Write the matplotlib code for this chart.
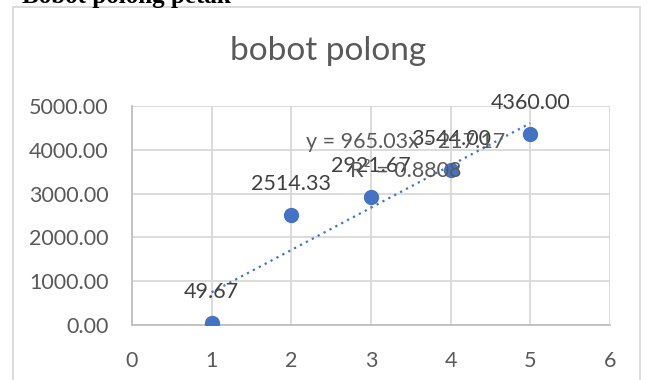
import matplotlib.pyplot as plt
from matplotlib.patches import Rectangle
import numpy as np

# bobot polong per perlakuan
perlakuan = [1, 2, 3, 4, 5]
bobot = [49.67, 2514.33, 2921.67, 3544.00, 4360.00]

# linear trendline as reported on the chart
trend_slope = 965.03
trend_intercept = -217.17
trend_r2 = 0.8808

x_ticks = [0, 1, 2, 3, 4, 5, 6]
y_ticks = [0, 1000, 2000, 3000, 4000, 5000]

blue = '#4472C4'
grey_text = '#595959'
grid_col = '#d9d9d9'
font = 'Lato'
fs = 15.5

fig = plt.figure(figsize=(6.48, 3.80), dpi=100)
fig.patch.set_facecolor('white')

# heading above the chart frame (partly cut at the top)
fig.text(22 / 648, 1 - 3 / 380, 'Bobot polong petak', family='Liberation Serif',
         fontweight='bold', fontsize=18, ha='left', va='baseline', color='black')

# chart frame
fig.patches.append(Rectangle((12.5 / 648, -0.1), (640 - 12.5) / 648, 1.1 - 7 / 380,
                             transform=fig.transFigure, fill=False,
                             edgecolor=grid_col, linewidth=1.3))

ax = fig.add_axes([132 / 648, 1 - 325 / 380, (610 - 132) / 648, (325 - 106) / 380])

x_line = np.array([perlakuan[0], perlakuan[-1]], dtype=float)
ax.plot(x_line, trend_slope * x_line + trend_intercept,
        color=blue, linewidth=1.6, linestyle=(0, (1, 2)), zorder=3)

ax.plot(perlakuan, bobot, 'o', color=blue, markersize=10, zorder=4)

for xi, yi in zip(perlakuan, bobot):
    ax.annotate(f'{yi:.2f}', (xi, yi), xytext=(0, 22), textcoords='offset points',
                ha='center', va='center', fontsize=fs, color='#404040', family=font,
                zorder=5)

sign = '-' if trend_intercept < 0 else '+'
ax.text(3.44, 4178, f'y = {trend_slope:.2f}x {sign} {abs(trend_intercept):.2f}',
        ha='center', va='center', fontsize=fs, color=grey_text, family=font, zorder=5)
ax.text(3.44, 3527, f'R² = {trend_r2:.4f}', ha='center', va='center', fontsize=fs,
        color=grey_text, family=font, zorder=5)

ax.set_xlim(0, 6)
ax.set_ylim(0, 5000)
ax.set_xticks(x_ticks)
ax.set_yticks(y_ticks)
ax.set_xticklabels([str(t) for t in x_ticks])
ax.set_yticklabels([f'{t:.2f}' for t in y_ticks])
ax.tick_params(length=0, labelsize=fs, labelcolor=grey_text)
ax.tick_params(axis='y', pad=17)
ax.tick_params(axis='x', pad=19)
for lab in ax.get_xticklabels() + ax.get_yticklabels():
    lab.set_family(font)

ax.grid(True, color=grid_col, linewidth=1.3)
ax.set_axisbelow(True)
for side in ['top', 'right']:
    ax.spines[side].set_visible(False)
for side in ['left', 'bottom']:
    ax.spines[side].set_color('#bfbfbf')
    ax.spines[side].set_linewidth(1.3)

fig.text(328 / 648, 1 - 51 / 380, 'bobot polong', ha='center', va='center',
         fontsize=24, color=grey_text, family=font)

fig.savefig('out.png', dpi=100, facecolor='white')
